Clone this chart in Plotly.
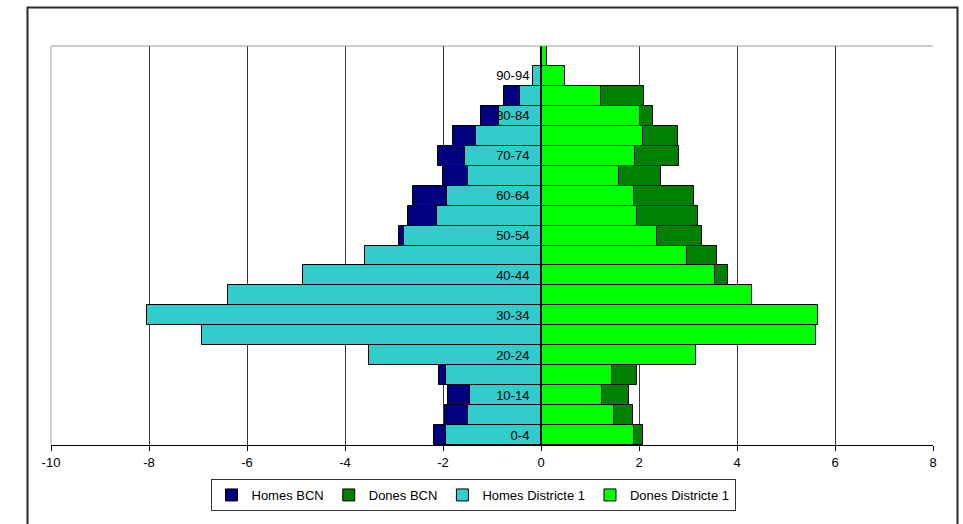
import plotly.graph_objects as go

# Age groups (bottom to top)
ages = ["0-4", "5-9", "10-14", "15-19", "20-24", "25-29", "30-34", "35-39",
        "40-44", "45-49", "50-54", "55-59", "60-64", "65-69", "70-74",
        "75-79", "80-84", "85-89", "90-94", "95+"]

# Share of population (%) by sex and age group
homes_bcn = [2.18, 1.95, 1.89, 2.08, 2.60, 3.60, 4.00, 3.80, 3.60, 3.30,
             2.90, 2.71, 2.62, 2.01, 2.11, 1.80, 1.22, 0.76, 0.15, 0.00]
dones_bcn = [2.09, 1.87, 1.80, 1.95, 2.50, 3.50, 3.90, 3.90, 3.82, 3.59,
             3.29, 3.21, 3.12, 2.44, 2.82, 2.79, 2.28, 2.11, 0.42, 0.10]
homes_d1 = [1.94, 1.50, 1.44, 1.94, 3.52, 6.91, 8.05, 6.39, 4.85, 3.59,
            2.80, 2.13, 1.91, 1.50, 1.55, 1.33, 0.86, 0.43, 0.17, 0.00]
dones_d1 = [1.90, 1.48, 1.25, 1.45, 3.17, 5.62, 5.65, 4.31, 3.56, 2.97,
            2.37, 1.95, 1.90, 1.59, 1.92, 2.09, 2.02, 1.22, 0.48, 0.13]

x_ticks = [-10, -8, -6, -4, -2, 0, 2, 4, 6, 8]
y_tick_labels = ages[0:19:2]

series = [
    ("Homes BCN", [-v for v in homes_bcn], "#000080"),
    ("Dones BCN", dones_bcn, "#008000"),
    ("Homes Districte 1", [-v for v in homes_d1], "#33CCCC"),
    ("Dones Districte 1", dones_d1, "#00FF00"),
]

fig = go.Figure()
for name, vals, color in series:
    fig.add_trace(go.Bar(
        x=vals, y=ages, orientation="h", name=name,
        marker=dict(color=color, line=dict(color="black", width=1)),
        width=1.0,
    ))

W, H = 963, 524
ml, mr, mt, mb = 51, 30, 46, 79
pw, ph = W - ml - mr, H - mt - mb

def px_x(p):
    return (p - ml) / pw

def px_y(p):
    return (H - mb - p) / ph

fig.update_layout(
    width=W, height=H,
    margin=dict(l=ml, r=mr, t=mt, b=mb, pad=0, autoexpand=False),
    barmode="overlay",
    bargap=0,
    paper_bgcolor="white",
    plot_bgcolor="white",
    font=dict(family="Liberation Sans, Arial, sans-serif", size=13, color="black"),
    showlegend=True,
    legend=dict(
        orientation="h",
        x=px_x(473), xanchor="center",
        y=px_y(479), yanchor="top",
        bordercolor="#333333", borderwidth=1,
        bgcolor="white",
        font=dict(size=13),
        itemwidth=30,
        tracegroupgap=0,
    ),
    xaxis=dict(
        range=[-10, 8],
        tickvals=x_ticks,
        ticktext=[str(v) for v in x_ticks],
        showgrid=True, gridcolor="#3a3a3a", gridwidth=1,
        zeroline=False,
        showline=True, linecolor="black", linewidth=1,
        ticks="outside", ticklen=5, tickcolor="black",
        mirror=False,
        fixedrange=True,
    ),
    yaxis=dict(
        type="category",
        categoryorder="array", categoryarray=ages,
        range=[-0.5, 19.5],
        tickvals=y_tick_labels,
        ticktext=y_tick_labels,
        anchor="free",
        position=px_x(541),
        showline=True, linecolor="black", linewidth=1,
        showgrid=False, zeroline=False,
        ticks="outside", ticklen=9, tickcolor="rgba(0,0,0,0)",
        fixedrange=True,
    ),
    shapes=[
        # plot area frame (top, left)
        dict(type="line", xref="paper", yref="paper", x0=0, x1=1, y0=1, y1=1,
             line=dict(color="#9a9a9a", width=1)),
        dict(type="line", xref="paper", yref="paper", x0=0, x1=0, y0=0, y1=1,
             line=dict(color="#9a9a9a", width=1)),
        # outer chart border
        dict(type="rect", xref="paper", yref="paper",
             x0=px_x(27.5), x1=px_x(957.5), y0=px_y(540), y1=px_y(7.5),
             line=dict(color="#2a2a2a", width=2), fillcolor="rgba(0,0,0,0)",
             layer="above"),
    ],
)

fig.write_html("out.html")
